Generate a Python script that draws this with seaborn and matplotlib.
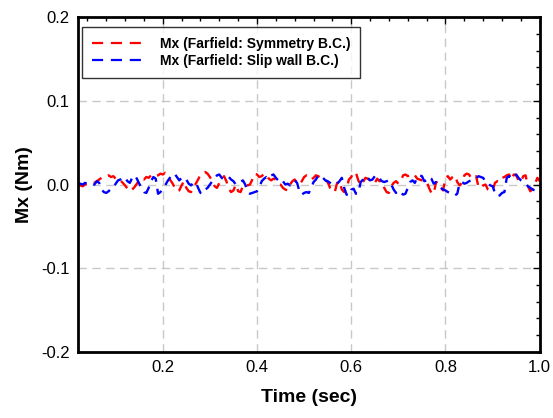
import numpy as np
import pandas as pd
import matplotlib
matplotlib.use("Agg")
import matplotlib.pyplot as plt
from matplotlib.ticker import MultipleLocator, AutoMinorLocator, FormatStrFormatter
import seaborn as sns

# -------------------------------
# Data (step 0.005 s from 0.02 s)
# -------------------------------
mx_symmetry = [
    -0.001, -0.001, -0.002, 0.000, 0.001, 0.001, 0.002, 0.002, 0.004, 0.006, 0.008, 0.010,
    0.010, 0.011, 0.009, 0.010, 0.007, 0.004, 0.005, 0.002, -0.001, -0.005, -0.008, -0.006,
    -0.003, 0.001, 0.005, 0.007, 0.006, 0.009, 0.008, 0.011, 0.012, 0.010,
    0.011, 0.013, 0.012, 0.014, 0.011, 0.006, 0.002, -0.003, -0.008, -0.007, -0.001, 0.004,
    -0.004, -0.008, -0.009, -0.003, 0.001, 0.006, 0.012, 0.014, 0.015, 0.013, 0.009, 0.004,
    -0.002, -0.004, 0.002, 0.005, 0.010, 0.004, -0.005, -0.009, -0.007, 0.000,
    -0.008, -0.009, -0.002, 0.001, -0.001, 0.000, 0.006, 0.013, 0.012, 0.009, 0.010, 0.013,
    0.012, 0.007, 0.005, 0.007, 0.006, 0.001, 0.000, -0.004, -0.006, -0.007, 0.000, 0.004,
    0.006, 0.002, 0.000, 0.004, 0.009, 0.011, 0.010, 0.006, 0.008, 0.011,
    0.010, 0.008, 0.006, 0.005, 0.003, -0.004, -0.008, -0.009, 0.002, 0.004, -0.006, -0.009,
    -0.005, 0.006, 0.009, 0.015, 0.014, 0.005, -0.001, 0.003, 0.008, 0.007, 0.005, 0.003,
    0.002, 0.007, 0.004, 0.005, -0.004, -0.009, -0.010, -0.002, 0.002, 0.004,
    0.001, 0.004, 0.011, 0.012, 0.010, 0.012, 0.013, 0.011, 0.007, 0.006, 0.005, 0.005,
    0.004, -0.004, -0.010, -0.011, 0.003, 0.001, -0.004, -0.007, 0.008, 0.010, 0.006, 0.009,
    0.011, 0.003, -0.001, 0.002, 0.011, 0.013, 0.012, 0.007, 0.009, 0.010,
    -0.003, -0.004, -0.001, 0.000, -0.006, -0.008, -0.007, 0.002, 0.004, 0.003, 0.008, 0.009,
    0.011, 0.012, 0.006, 0.012, 0.011, 0.005, 0.003, 0.010, 0.011, -0.002, -0.008, -0.005,
    0.001, 0.008, 0.004,
]

mx_slipwall = [
    0.001, 0.001, 0.000, 0.002, 0.001, 0.000, -0.001, 0.000, 0.004, 0.002, -0.006, -0.009,
    -0.010, -0.008, -0.005, -0.004, 0.001, 0.005, 0.006, 0.009, 0.008, 0.004, 0.002, 0.008,
    0.011, 0.007, 0.001, -0.004, -0.009, -0.010, -0.004, 0.004, 0.009, 0.007,
    -0.011, -0.009, -0.005, -0.001, 0.004, 0.008, 0.012, 0.013, 0.009, 0.005, 0.008, 0.009,
    0.006, 0.001, -0.001, 0.002, 0.003, -0.004, -0.010, -0.011, -0.006, -0.004, 0.000, 0.004,
    0.007, 0.011, 0.012, 0.008, 0.006, 0.008, 0.009, 0.006, 0.004, 0.000,
    0.001, 0.003, 0.005, 0.000, -0.009, -0.011, -0.010, -0.009, -0.008, -0.003, 0.004, 0.007,
    0.009, 0.007, 0.011, 0.012, 0.008, 0.005, 0.002, 0.004, 0.000, 0.001, -0.001, 0.003,
    0.005, 0.002, -0.008, -0.012, -0.010, -0.009, -0.010, -0.004, 0.003, 0.006,
    0.011, 0.010, 0.008, 0.005, 0.004, 0.002, 0.000, 0.000, 0.001, 0.004, 0.008, -0.004,
    -0.012, -0.013, -0.006, -0.005, -0.011, -0.010, 0.003, 0.006, 0.010, 0.008, 0.005, 0.006,
    0.010, 0.011, 0.007, 0.004, 0.003, 0.004, 0.005, 0.000, -0.006, -0.010,
    -0.007, -0.010, -0.012, -0.011, -0.004, 0.003, 0.005, 0.002, 0.009, 0.011, 0.010, 0.004,
    0.005, 0.009, 0.007, 0.001, 0.003, -0.002, -0.004, -0.006, -0.007, -0.009, -0.010, -0.012,
    -0.013, -0.011, 0.002, 0.003, 0.001, 0.002, 0.004, 0.005, 0.006, 0.007,
    0.010, 0.009, 0.008, 0.003, 0.002, -0.001, -0.002, -0.010, -0.014, -0.013, -0.010, -0.009,
    0.008, 0.010, 0.007, 0.011, 0.012, 0.008, 0.005, 0.003, 0.001, -0.002, -0.004, -0.006,
    -0.007, -0.005, -0.006,
]

series_labels = ["Mx (Farfield: Symmetry B.C.)", "Mx (Farfield: Slip wall B.C.)"]
t_start, t_end = 0.02, 1.0
time = np.linspace(t_start, t_end, len(mx_symmetry))

df = pd.concat([
    pd.DataFrame({"time": time, "Mx": mx_symmetry, "case": series_labels[0]}),
    pd.DataFrame({"time": time, "Mx": mx_slipwall, "case": series_labels[1]}),
])

# -------------------------------
# Plot
# -------------------------------
sns.set_style("white")
plt.rcParams["font.family"] = ["Liberation Sans", "DejaVu Sans"]
plt.rcParams["axes.unicode_minus"] = False
plt.rcParams["text.color"] = "black"
plt.rcParams["axes.labelcolor"] = "black"
plt.rcParams["xtick.labelcolor"] = "black"
plt.rcParams["ytick.labelcolor"] = "black"

fig = plt.figure(figsize=(5.53, 4.18), dpi=100)
ax = fig.add_axes([0.141, 0.158, 0.835, 0.801])

sns.lineplot(data=df, x="time", y="Mx", hue="case", palette=["#ff0000", "#0000ff"],
             linewidth=1.7, ax=ax, legend=False, sort=False)
for line in ax.get_lines():
    line.set_dashes((4, 3))

ax.set_xlim(t_start, t_end)
ax.set_ylim(-0.2, 0.2)
ax.xaxis.set_major_locator(MultipleLocator(0.2))
ax.xaxis.set_minor_locator(AutoMinorLocator(5))
ax.yaxis.set_major_locator(MultipleLocator(0.1))
ax.yaxis.set_minor_locator(AutoMinorLocator(5))
ax.xaxis.set_major_formatter(FormatStrFormatter("%.1f"))
ax.yaxis.set_major_formatter(FormatStrFormatter("%.1f"))

ax.grid(True, which="major", color="#c8c8c8", linestyle=(0, (6, 4)), linewidth=1)
ax.set_axisbelow(True)

for s in ax.spines.values():
    s.set_linewidth(2)
    s.set_color("black")
ax.tick_params(which="both", direction="in", top=True, right=True, labelsize=12,
               color="black", pad=6)
ax.tick_params(which="major", length=5, width=1)
ax.tick_params(which="minor", length=3, width=1)

ax.set_xlabel("Time (sec)", fontsize=14, fontweight="bold", labelpad=10)
ax.set_ylabel("Mx (Nm)", fontsize=14, fontweight="bold", labelpad=6)

handles = [plt.Line2D([], [], color=c, linewidth=1.6, dashes=(5, 3.5))
           for c in ["#ff0000", "#0000ff"]]
leg = ax.legend(handles, series_labels, loc="upper left",
                bbox_to_anchor=(4 / 462, 1 - 10 / 335), borderaxespad=0,
                prop={"weight": "bold", "size": 10}, frameon=True, fancybox=False,
                edgecolor="black", handlelength=3.6, borderpad=0.7,
                labelspacing=0.25, handletextpad=1.3)
leg.get_frame().set_linewidth(1)

fig.savefig("out.png", dpi=100)
